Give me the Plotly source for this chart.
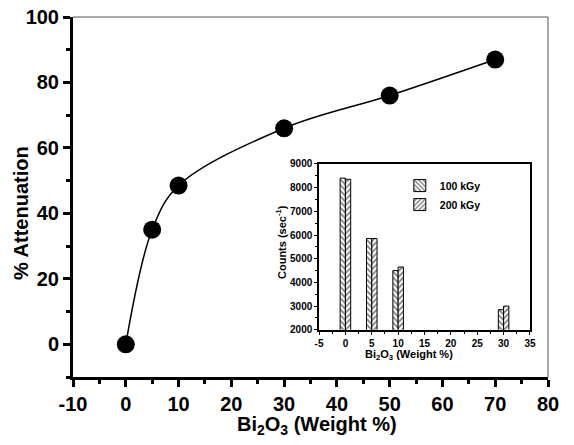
import plotly.graph_objects as go

# Main data
wt = [0, 5, 10, 30, 50, 70]
attenuation = [0, 35, 48.5, 66, 76, 87]

# Inset data
inset_x = [0, 5, 10, 30]
counts_100 = [8400, 5850, 4500, 2850]
counts_200 = [8350, 5850, 4650, 3000]

# Tick labels
main_xticks = list(range(-10, 81, 10))
main_yticks = list(range(0, 101, 20))
inset_xticks = list(range(-5, 36, 5))
inset_yticks = list(range(2000, 9001, 1000))

FONT = "Liberation Sans, Arial, sans-serif"

def bold(vals):
    return ["<b>%s</b>" % v for v in vals]

fig = go.Figure()

fig.add_trace(go.Scatter(
    x=wt, y=attenuation, mode="lines", line=dict(color="black", width=1.5, shape="spline", smoothing=1.0),
    showlegend=False, hoverinfo="skip"))
fig.add_trace(go.Scatter(
    x=wt, y=attenuation, mode="markers", marker=dict(color="black", size=18),
    showlegend=False))

fig.add_trace(go.Bar(
    x=inset_x, y=counts_100, name="<b>100 kGy</b>", xaxis="x2", yaxis="y2",
    marker=dict(color="white", line=dict(color="black", width=1),
                pattern=dict(shape="\\", fgcolor="black", bgcolor="white", size=4, solidity=0.45))))
fig.add_trace(go.Bar(
    x=inset_x, y=counts_200, name="<b>200 kGy</b>", xaxis="x2", yaxis="y2",
    marker=dict(color="white", line=dict(color="black", width=1),
                pattern=dict(shape="/", fgcolor="black", bgcolor="white", size=4, solidity=0.45))))

fig.update_layout(
    width=574, height=445,
    margin=dict(l=73, r=26, t=17, b=68),
    paper_bgcolor="white", plot_bgcolor="white",
    font=dict(family=FONT, color="black"),
    barmode="group", bargap=0.6, bargroupgap=0,
    xaxis=dict(range=[-10, 80], tickvals=main_xticks, ticktext=bold(main_xticks),
               automargin=False,
               showgrid=False, zeroline=False,
               showline=True, linecolor="black", linewidth=3,
               ticks="outside", ticklen=7, tickwidth=3, tickcolor="black",
               minor=dict(dtick=5, ticks="outside", ticklen=4, tickwidth=3, tickcolor="black"),
               tickfont=dict(size=20, family=FONT)),
    yaxis=dict(range=[-10, 100], tickvals=main_yticks, ticktext=bold(main_yticks),
               automargin=False,
               showgrid=False, zeroline=False,
               showline=True, linecolor="black", linewidth=3,
               ticks="outside", ticklen=7, tickwidth=3, tickcolor="black",
               minor=dict(dtick=10, ticks="outside", ticklen=4, tickwidth=3, tickcolor="black"),
               tickfont=dict(size=20, family=FONT)),
    xaxis2=dict(domain=[0.518, 0.962], anchor="y2", range=[-5, 35],
                tickvals=inset_xticks, ticktext=bold(inset_xticks), automargin=False,
                showgrid=False, zeroline=False, showline=True, mirror=True,
                linecolor="black", linewidth=1.5,
                ticks="outside", ticklen=3, tickwidth=1, tickcolor="black",
                minor=dict(dtick=2.5, ticks="outside", ticklen=2, tickcolor="black"),
                tickfont=dict(size=10, family=FONT)),
    yaxis2=dict(domain=[0.131, 0.592], anchor="x2", range=[2000, 9000],
                tickvals=inset_yticks, ticktext=bold(inset_yticks), automargin=False,
                showgrid=False, zeroline=False, showline=True, mirror=True,
                linecolor="black", linewidth=1.5,
                ticks="outside", ticklen=3, tickwidth=1, tickcolor="black",
                minor=dict(dtick=500, ticks="outside", ticklen=2, tickcolor="black"),
                tickfont=dict(size=10, family=FONT)),
    legend=dict(x=0.688, y=0.572, xanchor="left", yanchor="top",
                bgcolor="rgba(0,0,0,0)", font=dict(size=10.5, family=FONT),
                tracegroupgap=0, itemwidth=30),
    shapes=[
        dict(type="line", xref="paper", yref="paper", x0=0, x1=1, y0=1, y1=1, line=dict(color="#555", width=1)),
        dict(type="line", xref="paper", yref="paper", x0=1, x1=1, y0=0, y1=1, line=dict(color="#555", width=1)),
    ],
    annotations=[
        dict(text="<b>Bi<sub>2</sub>O<sub>3</sub> (Weight %)</b>", xref="paper", yref="paper",
             x=(317 - 73) / 475, y=-(425 - 377) / 360, xanchor="center", yanchor="middle",
             showarrow=False, font=dict(size=20, family=FONT)),
        dict(text="<b>% Attenuation</b>", xref="paper", yref="paper",
             x=-(73 - 21) / 475, y=(377 - 213) / 360, xanchor="center", yanchor="middle",
             textangle=-90, showarrow=False, font=dict(size=20, family=FONT)),
        dict(text="<b>Bi<sub>2</sub>O<sub>3</sub> (Weight %)</b>", xref="paper", yref="paper",
             x=(409 - 73) / 475, y=(377 - 355) / 360, xanchor="center", yanchor="middle",
             showarrow=False, font=dict(size=11, family=FONT)),
        dict(text="<b>Counts (sec<sup>-1</sup>)</b>", xref="paper", yref="paper",
             x=(281 - 73) / 475, y=(377 - 242) / 360, xanchor="center", yanchor="middle",
             textangle=-90, showarrow=False, font=dict(size=11, family=FONT)),
    ],
)

fig.write_html("out.html", config={"displayModeBar": False},
               post_script="document.body.style.margin='0';")
